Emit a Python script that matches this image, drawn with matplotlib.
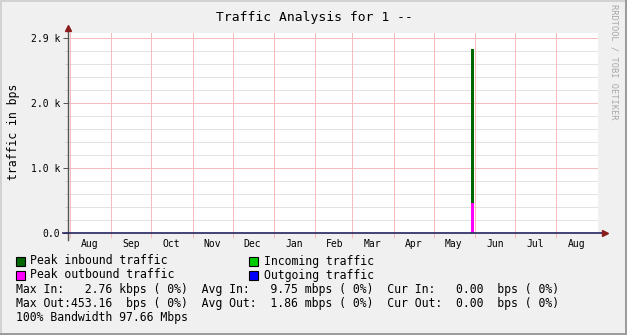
import datetime as dt
import matplotlib
matplotlib.use("Agg")
import matplotlib.pyplot as plt
import matplotlib.dates as mdates
from matplotlib.patches import Rectangle
from matplotlib.ticker import FixedLocator, MultipleLocator

# data
month_starts = [dt.date(2018, m, 1) for m in range(8, 13)] + [dt.date(2019, m, 1) for m in range(1, 9)]
month_labels = ['Aug', 'Sep', 'Oct', 'Nov', 'Dec', 'Jan', 'Feb', 'Mar', 'Apr', 'May', 'Jun', 'Jul', 'Aug']
spike_days = [dt.date(2019, 5, 29)]
peak_in = [2760.0]
incoming = [0.00975]
peak_out = [453.16]
outgoing = [0.00186]
ytick_vals = [0, 975, 1950, 2925]
ytick_labels = ['0.0', '1.0 k', '2.0 k', '2.9 k']

legend_items = [
    ('Peak inbound traffic', '#006600', 16, 261),
    ('Incoming traffic', '#00cc00', 249, 261),
    ('Peak outbound traffic', '#ff00ff', 16, 275),
    ('Outgoing traffic', '#0000ff', 249, 275),
]
stat_lines = [
    'Max In:   2.76 kbps ( 0%)  Avg In:   9.75 mbps ( 0%)  Cur In:   0.00  bps ( 0%)',
    'Max Out:453.16  bps ( 0%)  Avg Out:  1.86 mbps ( 0%)  Cur Out:  0.00  bps ( 0%)',
    '100% Bandwidth 97.66 Mbps',
]

W, H = 627, 335
MONO = 'DejaVu Sans Mono'
RED = '#f4bcbc'
PX = 0.72  # one pixel in points at 100 dpi

def fx(x):
    return x / W

def fy(y):
    return 1 - y / H

fig = plt.figure(figsize=(W / 100, H / 100), dpi=100, facecolor='#f0f0f0')

# 3d-ish frame around the image
fig.add_artist(Rectangle((0, 0), 2 / W, 1, transform=fig.transFigure, color='#d2d2d2', lw=0))
fig.add_artist(Rectangle((0, 1 - 2 / H), 1, 2 / H, transform=fig.transFigure, color='#d2d2d2', lw=0))
fig.add_artist(Rectangle((1 - 2 / W, 0), 2 / W, 1, transform=fig.transFigure, color='#9c9c9c', lw=0))
fig.add_artist(Rectangle((0, 0), 1, 2 / H, transform=fig.transFigure, color='#9c9c9c', lw=0))

left, right, top, bottom = 67.7, 597.7, 33.3, 233
ax = fig.add_axes([fx(left), fy(bottom), (right - left) / W, (bottom - top) / H])
ax.set_facecolor('white')

ax.set_xlim(dt.datetime(2018, 7, 30, 8), dt.datetime(2019, 9, 1))
ax.set_ylim(0, 2995)

bar_kw = dict(width=2.0, align='edge', lw=0, antialiased=False)
ax.bar(spike_days, peak_in, color='#006600', zorder=3, **bar_kw)
ax.bar(spike_days, incoming, color='#00cc00', zorder=3, **bar_kw)
ax.bar(spike_days, peak_out, color='#ff00ff', zorder=4, **bar_kw)
ax.bar(spike_days, outgoing, color='#0000ff', zorder=4, **bar_kw)

# grid
for v in range(195, 2995, 195):
    if v not in ytick_vals:
        ax.axhline(v, color='#e2e2e2', lw=PX, zorder=0, antialiased=False)
for v in ytick_vals:
    ax.axhline(v, color=RED, lw=PX, zorder=1, antialiased=False)
for d in month_starts:
    ax.axvline(d, color=RED, lw=PX, zorder=1, antialiased=False)

# x ticks: month boundaries and labels mid-month
mids = [mdates.date2num(d) + 15 for d in month_starts]
ax.xaxis.set_major_locator(FixedLocator(mdates.date2num(month_starts)))
ax.set_xticklabels([], minor=False)
ax.set_xticks(mids, month_labels, minor=True)
ax.tick_params(axis='x', which='major', length=3.5, color=RED, width=PX)
ax.tick_params(axis='x', which='minor', length=0, pad=4, labelsize=7, labelcolor='black')
for t in ax.get_xticklabels(minor=True):
    t.set_fontfamily(MONO)

ax.set_yticks(ytick_vals, ytick_labels)
ax.yaxis.set_minor_locator(MultipleLocator(195))
ax.tick_params(axis='y', which='major', length=3.6, color='#555555', width=PX, pad=2, labelsize=7)
ax.tick_params(axis='y', which='minor', length=2, color='#cccccc', width=PX)
for t in ax.get_yticklabels():
    t.set_fontfamily(MONO)

for s in ax.spines.values():
    s.set_visible(False)

# axes with arrows
ax.plot([0, 0], [-0.035, 1.02], transform=ax.transAxes, clip_on=False, color='#555555', lw=1, zorder=5)
ax.plot([0], [1.025], marker='^', markersize=4.5, color='#8b1c1c', transform=ax.transAxes, clip_on=False, zorder=6)
ax.plot([-0.009, 1.012], [0, 0], transform=ax.transAxes, clip_on=False, color='#23235e', lw=1.2, zorder=5)
ax.plot([1.014], [0], marker='>', markersize=4.5, color='#8b1c1c', transform=ax.transAxes, clip_on=False, zorder=6)

fig.text(fx(14), fy(132), 'traffic in bps', ha='center', va='center', rotation=90, fontfamily=MONO, fontsize=8.3)
fig.text(fx(314), fy(17), 'Traffic Analysis for 1 --', ha='center', va='center', fontfamily=MONO, fontsize=9.4)
fig.text(fx(614), fy(62), 'RRDTOOL / TOBI OETIKER', ha='center', va='center', rotation=270,
         fontfamily=MONO, fontsize=6.2, color='#a8a8a8')

for label, color, x, y in legend_items:
    fig.add_artist(Rectangle((fx(x), fy(y + 4.5)), 9 / W, 9 / H, transform=fig.transFigure,
                             facecolor=color, edgecolor='black', lw=0.8))
    fig.text(fx(x + 14.5), fy(y), label, ha='left', va='center', fontfamily=MONO, fontsize=8.3)

for i, line in enumerate(stat_lines):
    fig.text(fx(16), fy(289 + 14 * i), line, ha='left', va='center', fontfamily=MONO, fontsize=8.3)

fig.savefig('out.png', dpi=100, facecolor=fig.get_facecolor())
